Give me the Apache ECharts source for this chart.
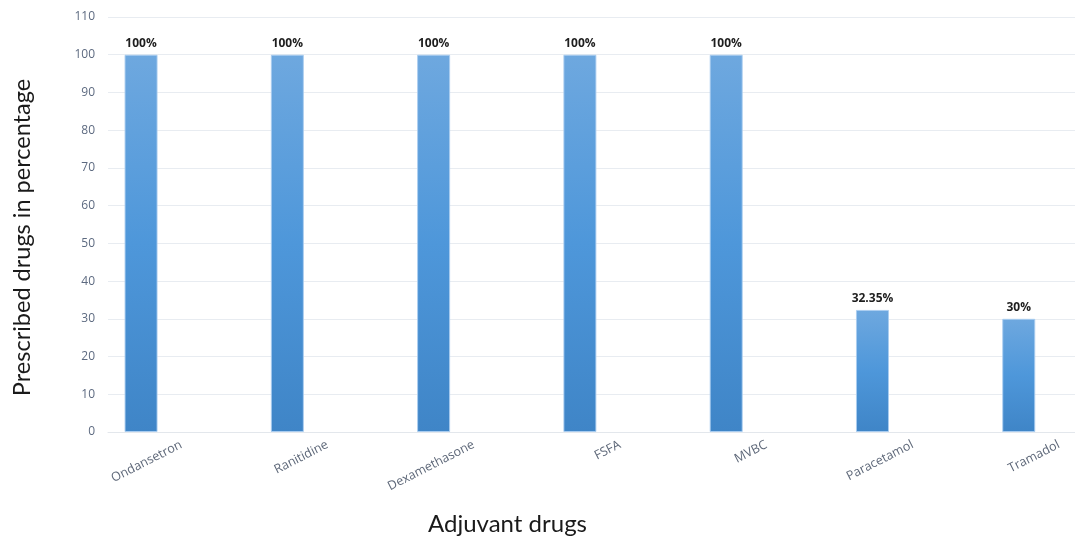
<!DOCTYPE html>
<html>
<head>
<meta charset="utf-8">
<script src="https://cdn.jsdelivr.net/npm/echarts@6/dist/echarts.min.js"></script>
<style>
  html, body { margin: 0; padding: 0; background: #ffffff; }
  #chart { width: 1075px; height: 538px; }
</style>
</head>
<body>
<div id="chart"></div>
<script>
// Adjuvant drugs and the share of patients they were prescribed to
const categories = ['Ondansetron', 'Ranitidine', 'Dexamethasone', 'FSFA', 'MVBC', 'Paracetamol', 'Tramadol'];
const prescribedPct = [100, 100, 100, 100, 100, 32.35, 30];
// second slot of each cluster, left empty
const emptySlot = [null, null, null, null, null, null, null];
const yTicks = { min: 0, max: 110, step: 10 };

const chart = echarts.init(document.getElementById('chart'), null, { renderer: 'canvas' });

const barFill = new echarts.graphic.LinearGradient(0, 0, 0, 1, [
  { offset: 0, color: '#6ea8df' },
  { offset: 0.5, color: '#4e97da' },
  { offset: 1, color: '#3f85c7' }
]);

chart.setOption({
  animation: false,
  backgroundColor: '#ffffff',
  textStyle: { fontFamily: 'Lato, "Open Sans", sans-serif' },
  title: {
    text: 'Adjuvant drugs',
    left: 423,
    top: 507,
    textStyle: { fontFamily: 'Lato', fontSize: 24, fontWeight: 'normal', color: '#1a1a1a' }
  },
  // the plot runs on past the right edge of the canvas, so the last band is cut off
  grid: { left: 108, width: 1024, top: 17, bottom: 106, outerBoundsMode: 'none', containLabel: false },
  xAxis: {
    type: 'category',
    data: categories,
    axisLine: { show: true, lineStyle: { color: '#e3e7ec', width: 1 } },
    axisTick: { show: false },
    axisLabel: {
      rotate: 27,
      margin: 12,
      interval: 0,
      color: '#5d6778',
      fontSize: 12.5,
      fontFamily: '"Open Sans", sans-serif'
    },
    splitLine: { show: false }
  },
  yAxis: {
    type: 'value',
    min: yTicks.min,
    max: yTicks.max,
    interval: yTicks.step,
    name: 'Prescribed drugs in percentage',
    nameLocation: 'middle',
    nameGap: 74,
    nameTextStyle: { fontFamily: 'Lato', fontSize: 23.5, color: '#1a1a1a', padding: [0, 26, 0, 0] },
    axisLine: { show: false },
    axisTick: { show: false },
    axisLabel: { color: '#5d6a80', fontSize: 12, margin: 13, fontFamily: '"Open Sans", sans-serif' },
    splitLine: { lineStyle: { color: '#e8ecf1', width: 1 } }
  },
  series: [
    {
      name: 'Prescribed',
      type: 'bar',
      data: prescribedPct,
      barWidth: 33,
      barGap: '143%',
      itemStyle: { color: barFill, borderColor: 'rgba(170,205,240,0.9)', borderWidth: 1 },
      label: {
        show: true,
        position: 'top',
        distance: 5,
        formatter: p => p.value + '%',
        fontFamily: '"Open Sans", sans-serif',
        fontWeight: 'bold',
        fontSize: 12,
        color: '#1e1e1e'
      }
    },
    {
      name: 'Other',
      type: 'bar',
      data: emptySlot,
      barWidth: 33
    }
  ]
});
</script>
</body>
</html>
